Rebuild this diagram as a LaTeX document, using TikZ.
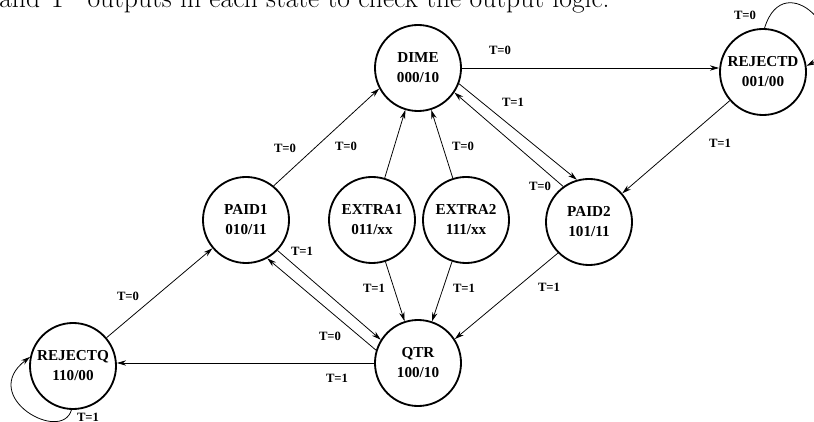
\documentclass[tikz,border=0pt]{standalone}
\usepackage{fontspec}
\usepackage{tikz}
\usetikzlibrary{arrows.meta, positioning}
\newfontfamily\timesb{Liberation Serif}

\begin{document}
\begin{tikzpicture}[x=0.025cm, y=0.025cm, >={Stealth[length=6.5pt, width=3.8pt]}]
    \tikzset{
        st/.style={draw, circle, line width=1.3pt, minimum size=2.15cm, inner sep=0pt,
            align=center, font=\timesb\bfseries\fontsize{10.8}{14.2}\selectfont},
        tr/.style={draw, ->, line width=0.55pt},
        lbl/.style={font=\timesb\bfseries\fontsize{9}{10}\selectfont, inner sep=1pt},
    }
    \clip (0,0) rectangle (814,421);
    \node[anchor=base west, inner sep=0pt, font=\fontsize{19.6}{22}\selectfont] (intro) at (-1,413)
        {and T\hspace{.75em}outputs in each state to check the output logic.};

    \node[st] (dime) at (418,353) {DIME\\000/10};
    \node[st] (rejd) at (763,349) {REJECTD\\001/00};
    \node[st] (paid1) at (246,201) {PAID1\\010/11};
    \node[st] (extra1) at (372,201) {EXTRA1\\011/xx};
    \node[st] (extra2) at (466,201) {EXTRA2\\111/xx};
    \node[st] (paid2) at (589,199) {PAID2\\101/11};
    \node[st] (qtr) at (418,58) {QTR\\100/10};
    \node[st] (rejq) at (73,55) {REJECTQ\\110/00};

    % upper row
    \draw[tr] (dime.east) -- (dime.east -| rejd.west)
        node[lbl] (dimeRej) at (500,371) {T=0};
    \draw[tr] (rejd.88) .. controls +(20,65) and +(50,25) .. (rejd.8)
        node[lbl] (rejdSelf) at (745,406) {T=0};
    \draw[tr] (rejd) -- (paid2)
        node[lbl] (rejdPaid) at (720,278) {T=1};
    \draw[tr] (dime.-21) -- (paid2.106)
        node[lbl] (dimePaid) at (513,319) {T=1};
    \draw[tr] (paid2.126) -- (dime.-34)
        node[lbl] (paidDime) at (540,235) {T=0};

    % into DIME
    \draw[tr] (paid1.51) -- (dime.208)
        node[lbl] (paidA) at (285,273) {T=0};
    \draw[tr] (extra1) -- (dime)
        node[lbl] (extraA) at (346,275) {T=0};
    \draw[tr] (extra2) -- (dime)
        node[lbl] (extraB) at (463,275) {T=0};

    % into QTR
    \draw[tr] (paid1.-44) -- (qtr.148)
        node[lbl] (paidQ) at (302,170) {T=1};
    \draw[tr] (qtr.163) -- (paid1.-61)
        node[lbl] (qPaid) at (330,85) {T=0};
    \draw[tr] (extra1) -- (qtr)
        node[lbl] (extraC) at (374,133) {T=1};
    \draw[tr] (extra2) -- (qtr)
        node[lbl] (extraD) at (464,133) {T=1};
    \draw[tr] (paid2.225) -- (qtr.33)
        node[lbl] (paidB) at (549,134) {T=1};

    % lower row
    \draw[tr] (qtr.west) -- (qtr.west -| rejq.east)
        node[lbl] (qRej) at (337,43) {T=1};
    \draw[tr] (rejq) -- (paid1)
        node[lbl] (rejqPaid) at (128,125) {T=0};
    \draw[tr] (rejq.-92) .. controls +(-10,-34) and +(-52,-40) .. (rejq.168)
        node[lbl] (rejqSelf) at (88,4) {T=1};
\end{tikzpicture}
\end{document}
